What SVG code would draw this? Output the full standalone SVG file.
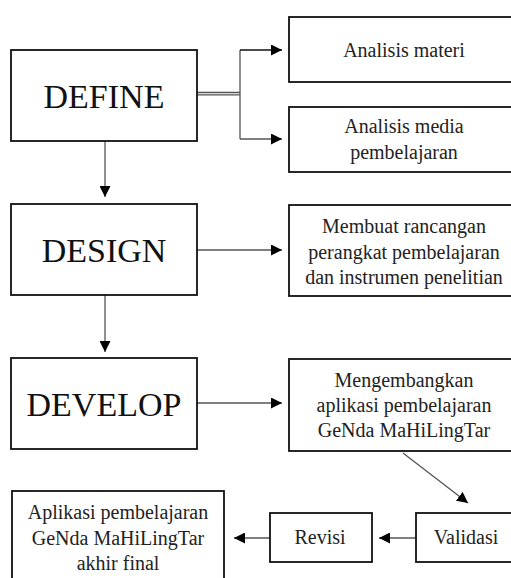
<svg xmlns="http://www.w3.org/2000/svg" width="511" height="578" viewBox="0 0 511 578">
<defs>
<marker id="ah" markerUnits="userSpaceOnUse" markerWidth="11" markerHeight="11" refX="10" refY="5" orient="auto" viewBox="0 0 10 10">
<path d="M0,0 L10,5 L0,10 z" fill="#000"/>
</marker>
<style>
.box{fill:#fff;stroke:#111;stroke-width:1.8}
.big{font-family:"Liberation Serif","Times New Roman",serif;font-size:34px;fill:#111;text-anchor:middle}
.sm{font-family:"Liberation Serif","Times New Roman",serif;font-size:20px;fill:#222;text-anchor:middle}
.ln{fill:none;stroke:#555;stroke-width:1.3}
.ar{fill:none;stroke:#555;stroke-width:1.3;marker-end:url(#ah)}
</style>
</defs>
<rect width="511" height="578" fill="#fff"/>
<g id="connectors">
<line class="ln" x1="197" y1="92.5" x2="240" y2="92.5" stroke="#222"/>
<line class="ln" x1="197" y1="94.8" x2="240" y2="94.8"/>
<line class="ln" x1="240" y1="50" x2="240" y2="139"/>
<path class="ar" d="M240,50 L282,50" style="stroke:#111"/>
<path class="ar" d="M240,139 L282,139"/>
<path class="ar" d="M105,141 L105,197"/>
<path class="ar" d="M197,250 L282,250"/>
<path class="ar" d="M105,295 L105,352"/>
<path class="ar" d="M197,403 L282,403"/>
<path class="ar" d="M403,453 L468,503"/>
<path class="ar" d="M416,538 L379,538"/>
<path class="ar" d="M270,538 L234,538"/>
</g>
<g id="define"><rect class="box" x="11" y="50" width="186" height="91"/><text class="big" x="104" y="108">DEFINE</text></g>
<g id="design"><rect class="box" x="11" y="204" width="186" height="91"/><text class="big" x="104" y="262">DESIGN</text></g>
<g id="develop"><rect class="box" x="11" y="358" width="186" height="91"/><text class="big" x="104" y="416">DEVELOP</text></g>
<g id="analisis-materi"><rect class="box" x="289" y="17" width="240" height="65"/><text class="sm" x="404" y="57">Analisis materi</text></g>
<g id="analisis-media"><rect class="box" x="289" y="107" width="240" height="65"/><text class="sm" x="404" y="133">Analisis media</text><text class="sm" x="404" y="159">pembelajaran</text></g>
<g id="rancangan"><rect class="box" x="289" y="205" width="240" height="91"/><text class="sm" x="404" y="233">Membuat rancangan</text><text class="sm" x="404" y="259">perangkat pembelajaran</text><text class="sm" x="404" y="284">dan instrumen penelitian</text></g>
<g id="mengembangkan"><rect class="box" x="289" y="359" width="240" height="92"/><text class="sm" x="404" y="387">Mengembangkan</text><text class="sm" x="404" y="412">aplikasi pembelajaran</text><text class="sm" x="404" y="437">GeNda MaHiLingTar</text></g>
<g id="validasi"><rect class="box" x="416" y="513" width="120" height="49"/><text class="sm" x="466" y="544">Validasi</text></g>
<g id="revisi"><rect class="box" x="270" y="513" width="102" height="49"/><text class="sm" x="320" y="544">Revisi</text></g>
<g id="aplikasi-final"><rect class="box" x="12" y="491" width="212" height="120"/><text class="sm" x="118" y="519">Aplikasi pembelajaran</text><text class="sm" x="118" y="545">GeNda MaHiLingTar</text><text class="sm" x="118" y="570">akhir final</text></g>
</svg>
